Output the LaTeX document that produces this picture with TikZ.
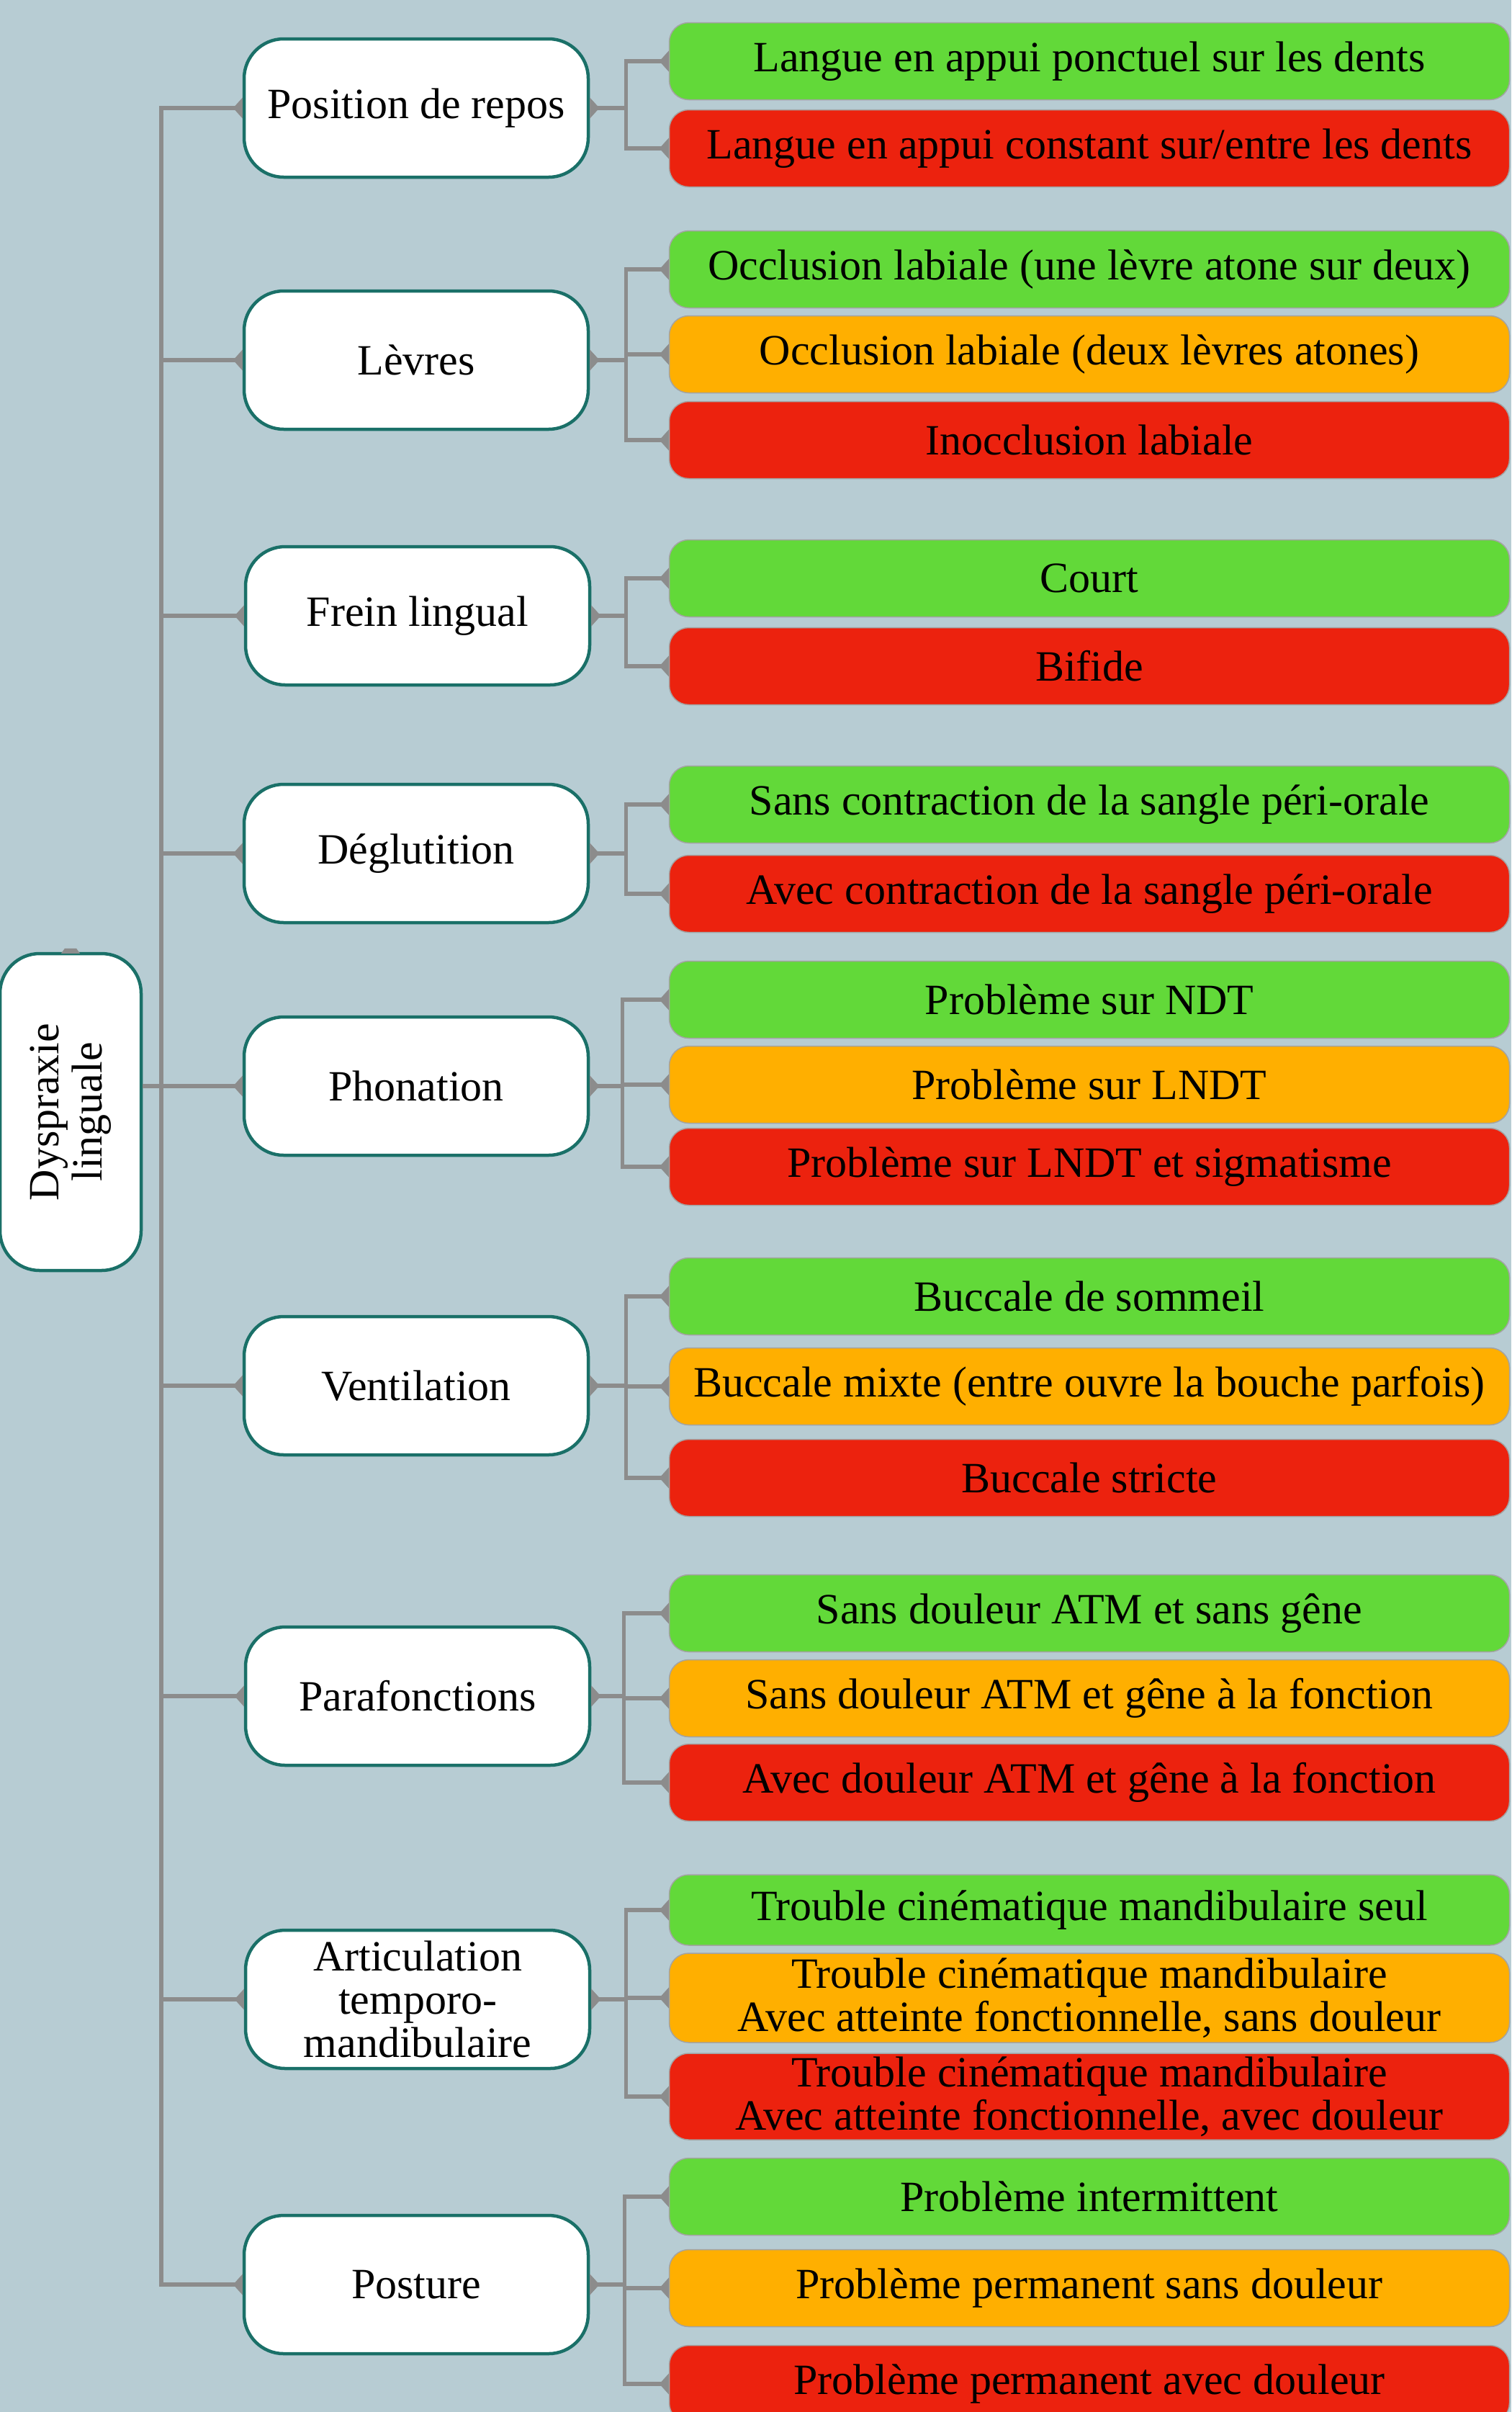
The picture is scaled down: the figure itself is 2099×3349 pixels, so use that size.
\documentclass[tikz,border=0pt]{standalone}
\usepackage{fontspec}
\setmainfont{Liberation Serif}
\usetikzlibrary{arrows.meta, positioning}
\definecolor{bgblue}{RGB}{183,204,211}
\definecolor{boxteal}{RGB}{26,112,104}
\definecolor{linkgray}{RGB}{140,140,140}
\definecolor{okgreen}{RGB}{98,217,57}
\definecolor{midorange}{RGB}{255,175,0}
\definecolor{badred}{RGB}{236,34,14}

\begin{document}
\begin{tikzpicture}[x=1pt, y=-1pt,
    cat/.style={draw=boxteal, line width=4.5pt, fill=white, rounded corners=55pt,
        minimum width=478pt, minimum height=192pt, align=center, inner sep=0pt,
        font=\fontsize{60}{60}\selectfont},
    leaf/.style={draw=linkgray!80, line width=1.5pt, rounded corners=27pt,
        minimum width=1167pt, minimum height=107pt, align=center, inner sep=0pt,
        font=\fontsize{60}{60}\selectfont},
    link/.style={draw=linkgray, line width=5.5pt},
    wedge/.tip={Triangle[reversed, length=13pt, width=28pt]}]

    % Background
    \fill[bgblue] (0,0) rectangle (2099,3349);
    \useasboundingbox (0,0) rectangle (2099,3349);

    % Root
    \node[cat, rotate=90, minimum width=440pt, minimum height=196pt] (root) at (98,1544) {Dyspraxie\\linguale};
    \fill[linkgray] (root.east) ++(-13,2) -- ++(26,0) -- ++(-5,-7) -- ++(-16,0) -- cycle;

    % Categories
    \node[cat] (pos) at (578,150) {Position de repos};
    \node[cat] (lev) at (578,500) {Lèvres};
    \node[cat] (fre) at (580,855) {Frein lingual};
    \node[cat] (deg) at (578,1185) {Déglutition};
    \node[cat] (pho) at (578,1508) {Phonation};
    \node[cat] (ven) at (578,1924) {Ventilation};
    \node[cat] (par) at (580,2355) {Parafonctions};
    \node[cat] (atm) at (580,2776) {Articulation\\temporo-\\mandibulaire};
    \node[cat] (pst) at (578,3172) {Posture};

    % Trunk
    \coordinate (trunk) at (224,1500);
    \draw[link, wedge-wedge] (pos.west) -| (trunk) |- (pst.west);
    \draw[link] (root.south |- pho.west) -- (trunk |- pho.west);
    \draw[link, -wedge] (trunk |- lev.west) -- (lev.west);
    \draw[link, -wedge] (trunk |- fre.west) -- (fre.west);
    \draw[link, -wedge] (trunk |- deg.west) -- (deg.west);
    \draw[link, -wedge] (trunk |- pho.west) -- (pho.west);
    \draw[link, -wedge] (trunk |- ven.west) -- (ven.west);
    \draw[link, -wedge] (trunk |- par.west) -- (par.west);
    \draw[link, -wedge] (trunk |- atm.west) -- (atm.west);

    % Position de repos
    \node[leaf, fill=okgreen] (pos1) at (1513,85) {Langue en appui ponctuel sur les dents};
    \node[leaf, fill=badred] (pos2) at (1513,206) {Langue en appui constant sur/entre les dents};
    \draw[link, wedge-wedge] (pos.east) -- ++(50,0) |- (pos1.west);
    \draw[link, wedge-wedge] (pos.east) -- ++(50,0) |- (pos2.west);

    % Levres
    \node[leaf, fill=okgreen] (lev1) at (1513,374) {Occlusion labiale (une lèvre atone sur deux)};
    \node[leaf, fill=midorange] (lev2) at (1513,492) {Occlusion labiale (deux lèvres atones)};
    \node[leaf, fill=badred] (lev3) at (1513,611) {Inocclusion labiale};
    \draw[link, wedge-wedge] (lev.east) -- ++(50,0) |- (lev1.west);
    \draw[link, wedge-wedge] (lev.east) -- ++(50,0) |- (lev2.west);
    \draw[link, wedge-wedge] (lev.east) -- ++(50,0) |- (lev3.west);

    % Frein lingual
    \node[leaf, fill=okgreen] (fre1) at (1513,803) {Court};
    \node[leaf, fill=badred] (fre2) at (1513,925) {Bifide};
    \draw[link, wedge-wedge] (fre.east) -- ++(48,0) |- (fre1.west);
    \draw[link, wedge-wedge] (fre.east) -- ++(48,0) |- (fre2.west);

    % Deglutition
    \node[leaf, fill=okgreen] (deg1) at (1513,1117) {Sans contraction de la sangle péri-orale};
    \node[leaf, fill=badred] (deg2) at (1513,1241) {Avec contraction de la sangle péri-orale};
    \draw[link, wedge-wedge] (deg.east) -- ++(50,0) |- (deg1.west);
    \draw[link, wedge-wedge] (deg.east) -- ++(50,0) |- (deg2.west);

    % Phonation
    \node[leaf, fill=okgreen] (pho1) at (1513,1388) {Problème sur NDT};
    \node[leaf, fill=midorange] (pho2) at (1513,1506) {Problème sur LNDT};
    \node[leaf, fill=badred] (pho3) at (1513,1620) {Problème sur LNDT et sigmatisme};
    \draw[link, wedge-wedge] (pho.east) -- ++(45,0) |- (pho1.west);
    \draw[link, wedge-wedge] (pho.east) -- ++(45,0) |- (pho2.west);
    \draw[link, wedge-wedge] (pho.east) -- ++(45,0) |- (pho3.west);

    % Ventilation
    \node[leaf, fill=okgreen] (ven1) at (1513,1800) {Buccale de sommeil};
    \node[leaf, fill=midorange] (ven2) at (1513,1925) {Buccale mixte (entre ouvre la bouche parfois)};
    \node[leaf, fill=badred] (ven3) at (1513,2052) {Buccale stricte};
    \draw[link, wedge-wedge] (ven.east) -- ++(50,0) |- (ven1.west);
    \draw[link, wedge-wedge] (ven.east) -- ++(50,0) |- (ven2.west);
    \draw[link, wedge-wedge] (ven.east) -- ++(50,0) |- (ven3.west);

    % Parafonctions
    \node[leaf, fill=okgreen] (par1) at (1513,2240) {Sans douleur ATM et sans gêne};
    \node[leaf, fill=midorange] (par2) at (1513,2358) {Sans douleur ATM et gêne à la fonction};
    \node[leaf, fill=badred] (par3) at (1513,2475) {Avec douleur ATM et gêne à la fonction};
    \draw[link, wedge-wedge] (par.east) -- ++(45,0) |- (par1.west);
    \draw[link, wedge-wedge] (par.east) -- ++(45,0) |- (par2.west);
    \draw[link, wedge-wedge] (par.east) -- ++(45,0) |- (par3.west);

    % Articulation temporo-mandibulaire
    \node[leaf, fill=okgreen, minimum height=98pt] (atm1) at (1513,2652) {Trouble cinématique mandibulaire seul};
    \node[leaf, fill=midorange, minimum height=124pt] (atm2) at (1513,2774) {Trouble cinématique mandibulaire\\Avec atteinte fonctionnelle, sans douleur};
    \node[leaf, fill=badred, minimum height=120pt] (atm3) at (1513,2911) {Trouble cinématique mandibulaire\\Avec atteinte fonctionnelle, avec douleur};
    \draw[link, wedge-wedge] (atm.east) -- ++(48,0) |- (atm1.west);
    \draw[link, wedge-wedge] (atm.east) -- ++(48,0) |- (atm2.west);
    \draw[link, wedge-wedge] (atm.east) -- ++(48,0) |- (atm3.west);

    % Posture
    \node[leaf, fill=okgreen] (pst1) at (1513,3050) {Problème intermittent};
    \node[leaf, fill=midorange] (pst2) at (1513,3177) {Problème permanent sans douleur};
    \node[leaf, fill=badred] (pst3) at (1513,3310) {Problème permanent avec douleur};
    \draw[link, wedge-wedge] (pst.east) -- ++(48,0) |- (pst1.west);
    \draw[link, wedge-wedge] (pst.east) -- ++(48,0) |- (pst2.west);
    \draw[link, wedge-wedge] (pst.east) -- ++(48,0) |- (pst3.west);
\end{tikzpicture}
\end{document}
